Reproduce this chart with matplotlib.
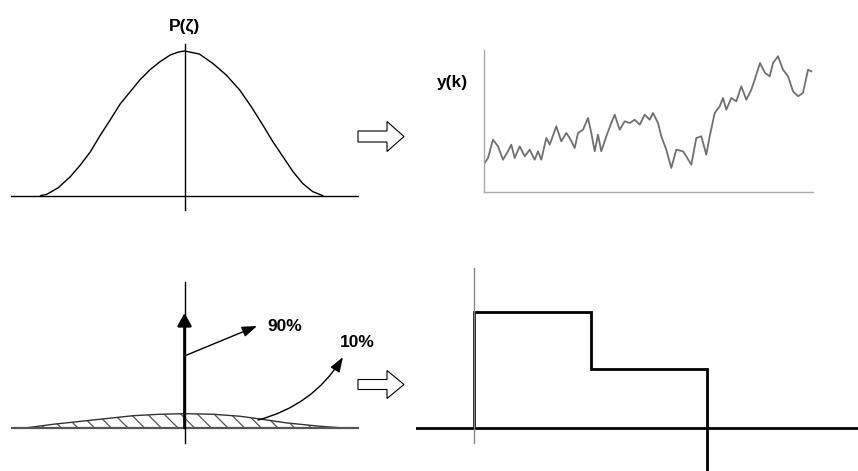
import matplotlib
matplotlib.use("Agg")
import matplotlib.pyplot as plt
from matplotlib.patches import FancyArrow

plt.rcParams['font.family'] = ['Liberation Sans', 'DejaVu Sans']
plt.rcParams['hatch.linewidth'] = 0.9

# ---------------- data ----------------
# Panel 1: probability density P(zeta)
pdf_zeta = [-3.00, -2.87, -2.63, -2.38, -2.17, -1.96, -1.76, -1.55, -1.34, -1.13,
            -0.92, -0.71, -0.51, -0.30, -0.125, 0.0,
            0.31, 0.59, 0.87, 1.15, 1.39, 1.63, 1.84, 2.05, 2.26, 2.46, 2.67, 2.88]
pdf_p = [0.0, 0.009, 0.055, 0.131, 0.212, 0.304, 0.415, 0.523, 0.634, 0.719,
         0.804, 0.873, 0.926, 0.972, 0.993, 1.0,
         0.979, 0.914, 0.834, 0.730, 0.615, 0.489, 0.373, 0.270, 0.166, 0.085, 0.028, 0.0]

# Panel 2: realisation y(k)
yk_k = [0.7, 4, 9, 14, 19, 24, 27.3, 30.7, 35.7, 40.7, 45.7, 50.7, 54, 57.3, 62.3,
        65.7, 72.3, 77.3, 82.3, 85.7, 90.7, 94, 99, 104, 107.3, 110.7, 114, 117.3,
        122.3, 127.3, 130.7, 135.7, 140.7, 145.7, 150.7, 155.7, 160.7, 165.7, 169,
        174, 177.3, 182.3, 187.3, 192.3, 199, 202.3, 207.3, 212.3, 217.3, 222.3,
        225.7, 230.7, 235.7, 239, 242.3, 247.3, 252.3, 257.3, 262.3, 267.3, 270.7,
        276, 281, 285.7, 289, 294, 299, 304, 309, 314, 319, 324, 327.3]
yk_y = [29, 34, 52.3, 45.7, 32.3, 40.7, 47.3, 34, 45.7, 35.7, 42.3, 32.3, 40.7,
        32.3, 54, 47.3, 65.7, 50.7, 59, 54, 44, 59, 62.3, 74, 59, 40.7, 57.3, 40.7,
        55.7, 69, 77.3, 62.3, 70.7, 69, 72.3, 67.3, 77.3, 72.3, 79, 69, 55.7, 42.3,
        24, 42.3, 40.7, 35.7, 27.3, 54, 55.7, 37.3, 55.7, 79, 85.7, 94, 82.3, 94,
        90.7, 105.7, 92.3, 102.3, 112.3, 129, 119, 115.7, 129, 135.7, 122.3, 115.7,
        100.7, 95.7, 99, 122.3, 120.7]

# Panel 3: mixed distribution (impulse + small spread)
bump_zeta = [-3.32, -2.73, -1.97, -1.07, -0.51, 0.01, 0.60, 1.16, 1.58, 2.13, 2.82, 3.31]
bump_p = [0.0, 0.026, 0.053, 0.085, 0.095, 0.099, 0.095, 0.081, 0.062, 0.035, 0.012, 0.0]
impulse_height = 0.795
label_90 = "90%"
label_10 = "10%"

# Panel 4: piecewise-constant signal
step_edges = [0, 1, 2, 3.5]
step_values = [2.0, 1.02, -0.751]

W, H = 858, 471
fig = plt.figure(figsize=(W / 100, H / 100), dpi=100)


def px_axes(x0, y0, x1, y1):
    ax = fig.add_axes([x0 / W, 1 - y1 / H, (x1 - x0) / W, (y1 - y0) / H])
    ax.set_facecolor('none')
    return ax


# ---------- Panel 1 ----------
ax1 = px_axes(11, 40, 359, 212)
ax1.plot(pdf_zeta, pdf_p, color='black', lw=1.0)
ax1.axhline(0, color='black', lw=1.0)
ax1.axvline(0, ymin=(212 - 210) / 172, ymax=(212 - 44) / 172, color='black', lw=1.0)
ax1.set_xlim(-3.615, 3.635)
ax1.set_ylim(-0.113, 1.076)
ax1.axis('off')
fig.text(185 / W, 1 - 26 / H, "P(ζ)", ha='center', va='center',
         fontsize=12.5, fontweight='bold')

# ---------- Panel 2 ----------
ax2 = px_axes(484, 50, 813, 192)
ax2.plot(yk_k, yk_y, color='#707070', lw=1.3)
ax2.set_xlim(0, 329)
ax2.set_ylim(0, 142)
for s in ['top', 'right']:
    ax2.spines[s].set_visible(False)
for s in ['left', 'bottom']:
    ax2.spines[s].set_color('#aaaaaa')
    ax2.spines[s].set_linewidth(1.0)
ax2.set_xticks([])
ax2.set_yticks([])
fig.text(452 / W, 1 - 82 / H, "y(k)", ha='center', va='center',
         fontsize=12.5, fontweight='bold')

# ---------- Panel 3 ----------
ax3 = px_axes(11, 270, 359, 445)
ax3.set_xlim(-3.615, 3.635)
ax3.set_ylim(-0.1175, 1.092)
ax3.fill_between(bump_zeta, bump_p, 0, facecolor='white', edgecolor='#555555',
                 hatch='\\\\', linewidth=0)
ax3.plot(bump_zeta, bump_p, color='#333333', lw=1.0)
ax3.axhline(0, color='#555555', lw=1.6)
ax3.axvline(0, ymin=(445 - 443) / 175, ymax=(445 - 282) / 175, color='black', lw=1.0)
ax3.annotate('', xy=(0, impulse_height), xytext=(0, 0),
             arrowprops=dict(arrowstyle='-|>,head_length=0.75,head_width=0.42',
                             lw=2.0, color='black', shrinkA=0, shrinkB=0,
                             mutation_scale=10))
ax3.annotate('', xy=(1.51, 0.705), xytext=(0, 0.498),
             arrowprops=dict(arrowstyle='-|>,head_length=0.9,head_width=0.32',
                             lw=1.0, color='black', shrinkA=0, shrinkB=0,
                             mutation_scale=10))
ax3.annotate('', xy=(3.30, 0.49), xytext=(1.53, 0.055),
             arrowprops=dict(arrowstyle='-|>,head_length=0.9,head_width=0.32',
                             lw=1.0, color='black', shrinkA=0, shrinkB=0,
                             mutation_scale=10,
                             connectionstyle='arc3,rad=0.2'))
ax3.text(1.72, 0.70, label_90, ha='left', va='center', fontsize=12.5, fontweight='bold')
ax3.text(3.24, 0.594, label_10, ha='left', va='center', fontsize=12.5, fontweight='bold')
ax3.axis('off')

# ---------- Panel 4 ----------
ax4 = px_axes(416, 268, 858, 471)
ax4.set_xlim(-0.498, 3.296)
ax4.set_ylim(-0.741, 2.759)
ax4.axhline(0, color='black', lw=2.0)
ax4.axvline(0, ymin=(471 - 443) / 203, ymax=1.0, color='#888888', lw=1.0)
ax4.stairs(step_values, step_edges, baseline=0, color='black', lw=2.0, clip_on=False)
ax4.axis('off')

# ---------- hollow transition arrows ----------
axd = px_axes(0, 0, W, H)
axd.set_xlim(0, W)
axd.set_ylim(H, 0)
axd.axis('off')
for yc, sw, hw in [(136.5, 11, 30), (384.5, 10, 28)]:
    axd.add_patch(FancyArrow(358, yc, 46, 0, width=sw, head_width=hw, head_length=17,
                             length_includes_head=True, facecolor='white',
                             edgecolor='black', lw=0.8))

fig.savefig("out.png", dpi=100)
